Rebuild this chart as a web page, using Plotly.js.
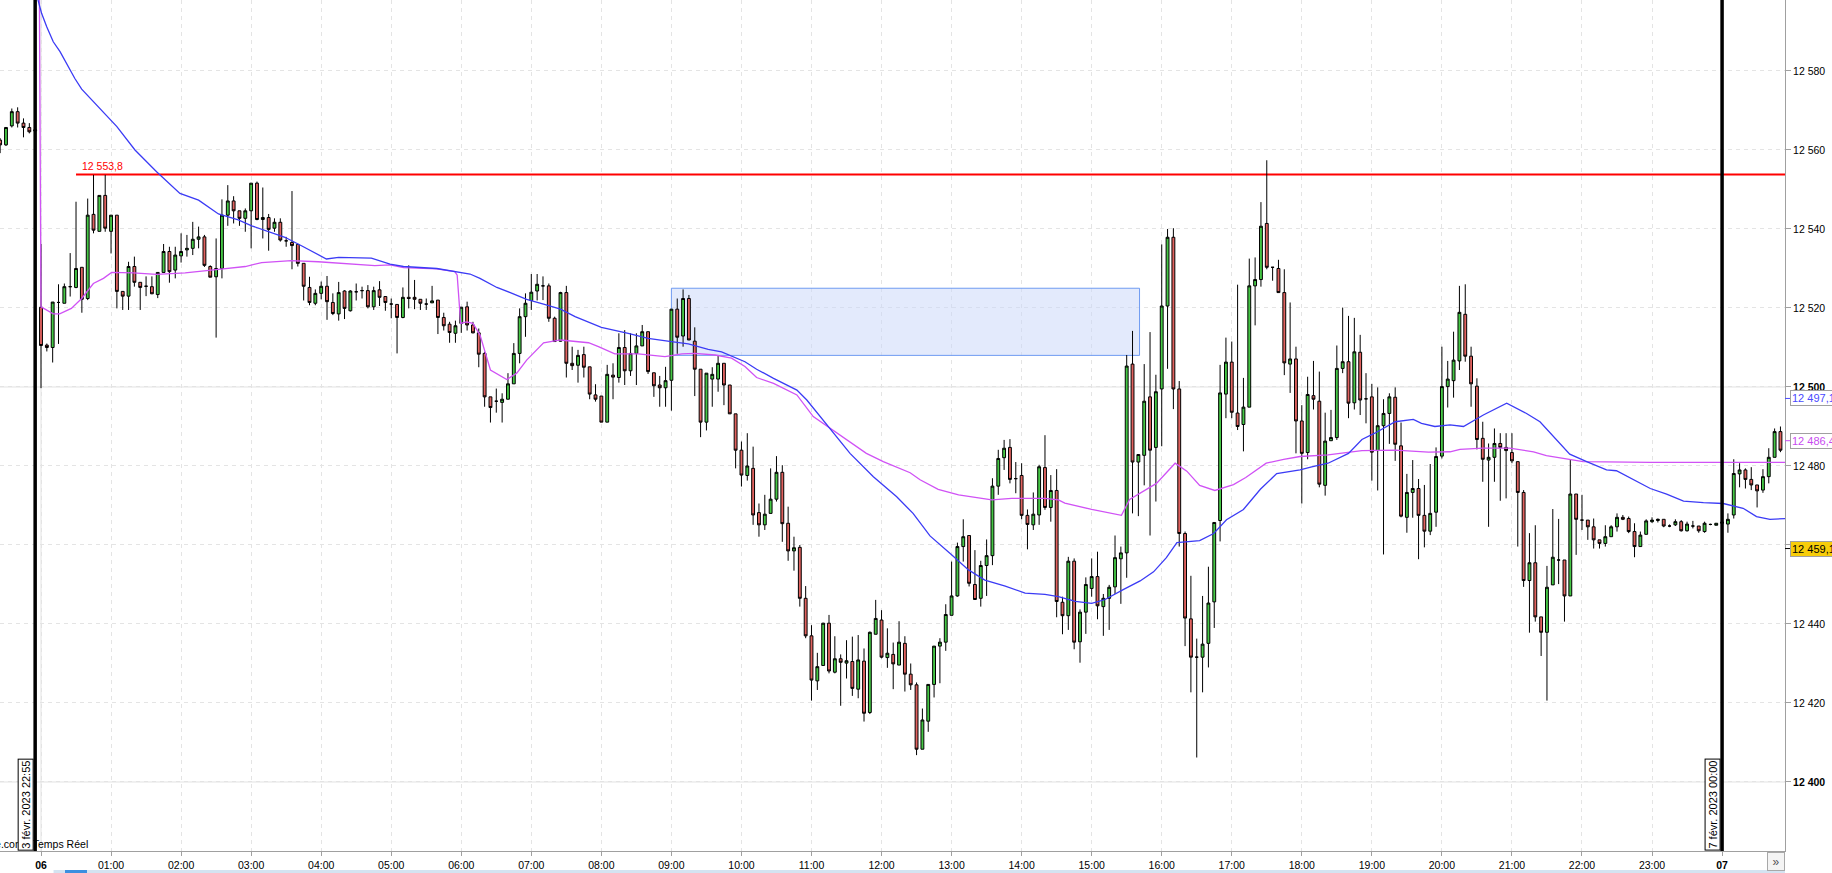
<!DOCTYPE html>
<html>
<head>
<meta charset="utf-8">
<script src="https://cdn.plot.ly/plotly-3.0.1.min.js"></script>
<style>
html,body{margin:0;padding:0;background:#fff;overflow:hidden;}
#chart{width:1832px;height:873px;}
</style>
</head>
<body>
<div id="chart"></div>
<script>
// 5-minute candles, index 0 = 6 Feb 00:00, first candle index = -7
const FIRST_INDEX = -7;

const candleOpen = [
12562.5,12561.3,12566.1,12569.7,12566.8,12565.7,12564.8,
12520.2,12510.6,12510.0,12521.4,12521.2,12525.4,12525.2,12530.3,12522.4,12543.7,
12539.4,12548.5,12539.4,12543.5,12524.2,12523.0,12530.5,12526.5,12525.5,12525.4,
12523.4,12529.0,12534.3,12529.6,12533.2,12534.7,12535.1,12537.4,12538.0,12530.5,
12527.9,12530.0,12543.5,12547.1,12544.6,12542.7,12544.6,12551.6,12542.4,12542.9,
12540.2,12541.7,12537.0,12536.6,12536.1,12531.3,12525.2,12521.2,12523.7,12525.5,
12521.4,12518.5,12524.3,12519.3,12524.1,12524.4,12524.4,12520.3,12524.6,12522.9,
12521.0,12520.9,12517.6,12522.7,12522.7,12522.2,12521.0,12521.3,12522.0,12517.6,
12515.9,12513.6,12516.1,12520.3,12515.7,12513.7,12508.5,12497.5,12496.4,12496.1,
12496.9,12500.8,12508.5,12517.8,12521.9,12524.3,12525.6,12525.6,12517.4,12511.6,
12523.9,12506.0,12505.5,12508.2,12505.1,12498.0,12497.7,12491.1,12503.0,12502.4,
12510.0,12504.1,12508.5,12510.4,12514.0,12503.6,12500.5,12499.8,12501.7,12519.7,
12512.9,12522.4,12511.6,12504.5,12491.1,12502.0,12502.0,12506.0,12500.5,12493.2,
12484.0,12477.6,12479.4,12468.2,12465.1,12468.0,12471.6,12478.4,12465.5,12458.5,
12459.4,12446.5,12437.0,12425.6,12429.5,12440.2,12427.8,12431.2,12430.1,12430.5,
12423.5,12430.6,12417.6,12437.4,12441.0,12431.5,12432.3,12429.6,12435.1,12427.3,
12424.6,12408.3,12415.4,12424.7,12434.4,12435.4,12442.2,12447.1,12459.6,12462.4,
12450.0,12446.5,12454.8,12457.3,12474.9,12482.1,12484.7,12476.8,12477.6,12467.5,
12465.1,12467.6,12479.6,12469.5,12473.8,12445.5,12442.1,12455.9,12435.5,12443.0,
12449.0,12452.0,12444.4,12446.5,12449.4,12456.5,12458.0,12505.8,12481.0,12482.7,
12497.5,12484.7,12499.5,12520.5,12537.9,12499.5,12462.9,12441.3,12431.6,12431.6,
12435.1,12445.6,12466.2,12498.2,12506.3,12493.4,12490.5,12494.9,12525.6,12527.2,
12541.4,12530.3,12530.0,12523.9,12505.8,12507.1,12491.4,12483.4,12497.8,12496.4,
12475.1,12486.4,12487.2,12504.7,12506.4,12496.0,12508.8,12497.0,12497.5,12483.9,
12490.2,12493.3,12497.4,12485.1,12467.0,12473.3,12474.3,12467.5,12463.5,12468.3,
12482.5,12500.1,12501.6,12506.6,12518.4,12507.8,12500.2,12487.0,12481.5,12482.2,
12485.7,12484.7,12483.4,12481.1,12473.3,12451.0,12455.5,12441.8,12437.9,12449.9,
12456.2,12456.2,12447.1,12472.9,12466.3,12466.3,12464.6,12461.3,12460.4,12462.1,
12464.6,12467.0,12466.7,12463.4,12459.6,12462.7,12465.9,12466.2,12466.5,12464.8,
12465.1,12465.9,12463.6,12464.8,12464.8,12463.4,12465.2,12465.0,12465.5,12465.3,
12467.6,12478.0,12479.0,12476.6,12475.2,12473.9,12477.3,12482.2,12488.7
];

const candleHigh = [
12563.0,12565.7,12570.5,12570.8,12568.0,12566.8,12565.5,
12536.2,12511.0,12521.5,12526.0,12526.2,12533.9,12546.9,12530.3,12547.7,12553.7,
12548.5,12553.7,12543.5,12543.5,12524.2,12531.7,12533.0,12526.5,12528.0,12528.0,
12529.0,12536.2,12535.5,12535.5,12538.9,12538.5,12541.8,12540.6,12538.5,12530.8,
12537.6,12547.5,12551.1,12548.3,12544.6,12545.2,12551.6,12552.0,12550.5,12543.8,
12542.7,12542.7,12538.0,12549.6,12536.1,12531.3,12527.9,12524.7,12526.7,12528.1,
12523.7,12526.6,12524.5,12524.5,12526.2,12525.4,12525.8,12525.4,12526.8,12522.9,
12522.4,12520.9,12525.2,12530.8,12527.1,12522.2,12522.4,12525.6,12522.0,12518.8,
12516.5,12516.8,12520.2,12521.6,12516.5,12514.8,12508.9,12497.5,12499.6,12498.4,
12503.5,12511.1,12519.9,12523.7,12528.6,12528.6,12528.0,12526.2,12517.8,12524.1,
12525.6,12510.2,12509.4,12510.2,12505.1,12500.7,12497.7,12505.6,12506.0,12513.6,
12514.4,12513.6,12513.6,12515.7,12514.0,12503.6,12502.8,12505.1,12519.7,12522.4,
12524.7,12523.3,12515.1,12504.5,12503.5,12505.0,12508.1,12506.0,12500.5,12493.2,
12486.2,12488.3,12484.9,12470.5,12472.7,12479.4,12482.5,12480.2,12469.7,12462.1,
12460.0,12449.6,12439.7,12432.7,12440.3,12442.3,12436.9,12432.3,12435.9,12436.8,
12437.2,12433.8,12438.1,12446.1,12443.5,12438.9,12435.3,12440.7,12436.9,12430.0,
12425.2,12418.6,12424.7,12434.4,12436.4,12445.0,12455.8,12460.6,12466.5,12462.4,
12458.7,12456.0,12461.4,12476.9,12484.1,12486.6,12486.8,12481.0,12480.7,12469.0,
12473.3,12480.3,12487.8,12477.7,12479.2,12446.9,12457.0,12456.6,12443.7,12451.8,
12456.6,12458.3,12447.6,12449.9,12462.4,12459.6,12508.1,12514.2,12482.9,12505.8,
12513.9,12503.1,12536.1,12540.0,12540.2,12501.5,12463.4,12452.2,12436.3,12447.1,
12454.5,12465.7,12505.6,12512.5,12511.5,12525.9,12502.3,12532.5,12532.8,12546.8,
12557.4,12530.3,12532.2,12529.8,12521.4,12510.2,12495.4,12502.6,12506.6,12503.9,
12493.5,12494.2,12510.5,12520.1,12518.0,12517.5,12513.2,12503.5,12500.8,12499.9,
12496.9,12498.4,12499.9,12491.0,12478.0,12481.5,12476.7,12475.2,12480.5,12484.7,
12510.2,12506.6,12514.0,12525.6,12526.0,12510.2,12502.2,12491.2,12485.7,12489.5,
12488.3,12488.3,12488.3,12481.1,12473.9,12463.0,12465.0,12441.8,12454.7,12469.1,
12466.6,12456.2,12481.7,12472.9,12472.7,12466.3,12466.7,12461.3,12465.0,12465.0,
12468.0,12467.6,12467.2,12465.5,12463.4,12466.5,12467.0,12466.7,12466.5,12465.2,
12466.5,12466.3,12465.9,12466.1,12464.8,12465.9,12465.4,12465.5,12467.0,12468.0,
12481.7,12480.7,12479.4,12479.7,12475.2,12479.2,12484.5,12489.5,12490.0
];

const candleLow = [
12559.2,12561.0,12565.7,12565.7,12563.2,12564.2,12564.5,
12499.7,12509.0,12506.2,12510.9,12521.2,12522.9,12525.0,12518.8,12522.0,12538.9,
12539.4,12539.3,12533.8,12519.9,12519.5,12519.5,12525.4,12519.5,12523.0,12523.5,
12522.5,12529.0,12526.4,12527.5,12531.5,12533.0,12533.4,12535.1,12530.4,12527.8,
12512.5,12527.5,12540.8,12541.4,12540.8,12539.3,12535.1,12542.2,12537.6,12534.5,
12539.3,12536.8,12535.5,12529.8,12530.5,12521.9,12520.7,12520.7,12522.2,12517.0,
12518.2,12516.8,12517.2,12519.1,12521.9,12522.4,12519.9,12519.5,12520.5,12519.3,
12517.4,12508.5,12517.4,12519.9,12519.7,12519.5,12519.5,12521.3,12513.4,12514.3,
12511.2,12511.2,12513.7,12514.3,12513.6,12505.0,12495.0,12491.0,12493.5,12491.0,
12496.9,12500.8,12506.0,12512.7,12519.5,12521.9,12522.0,12516.5,12511.5,12511.5,
12502.4,12504.3,12501.1,12502.4,12496.9,12496.3,12491.1,12491.1,12496.9,12501.1,
12500.5,12502.8,12500.5,12510.4,12503.3,12497.5,12495.0,12495.0,12494.0,12508.4,
12510.2,12511.9,12497.7,12487.3,12489.0,12495.0,12498.8,12495.4,12493.2,12479.4,
12474.8,12476.3,12465.1,12462.1,12463.8,12468.0,12471.0,12460.8,12456.0,12453.5,
12444.4,12436.4,12420.6,12423.3,12429.5,12427.5,12427.5,12419.3,12426.2,12421.8,
12421.2,12415.3,12417.2,12437.4,12431.3,12428.9,12423.5,12429.6,12422.9,12423.3,
12406.8,12408.3,12412.7,12421.4,12425.0,12433.2,12442.2,12446.9,12455.8,12449.5,
12446.2,12444.4,12447.1,12454.9,12472.7,12479.0,12475.6,12473.1,12466.5,12458.9,
12463.8,12465.1,12468.9,12465.9,12441.7,12437.4,12438.5,12433.6,12430.2,12437.5,
12446.9,12441.2,12437.0,12438.5,12447.6,12445.1,12451.7,12468.0,12467.3,12475.1,
12462.4,12471.0,12485.0,12504.6,12494.4,12459.6,12434.4,12422.7,12406.2,12422.7,
12429.0,12439.0,12460.9,12492.1,12492.1,12489.1,12483.7,12494.9,12515.6,12525.4,
12529.8,12526.9,12523.9,12503.0,12498.5,12483.2,12470.5,12481.7,12494.3,12474.6,
12472.5,12486.4,12486.6,12503.5,12492.1,12494.3,12492.9,12490.8,12476.3,12473.8,
12457.6,12485.6,12481.3,12467.0,12463.1,12466.9,12456.4,12459.4,12462.5,12464.6,
12481.9,12494.8,12497.3,12504.3,12506.4,12495.0,12484.2,12476.0,12464.6,12476.0,
12471.2,12471.8,12480.7,12459.6,12449.4,12437.8,12440.6,12431.9,12420.6,12449.9,
12450.1,12440.6,12447.1,12457.5,12463.8,12461.3,12459.1,12459.1,12459.6,12462.1,
12463.4,12466.3,12463.0,12456.9,12459.6,12462.7,12465.6,12465.7,12464.5,12464.5,
12464.8,12463.4,12463.4,12464.2,12463.1,12463.1,12465.0,12465.0,12464.8,12463.1,
12466.7,12474.6,12474.3,12473.9,12469.5,12473.2,12475.6,12482.2,12483.5
];

const candleClose = [
12561.3,12565.7,12569.7,12566.8,12565.7,12564.6,12565.1,
12510.5,12510.0,12521.5,12521.4,12525.4,12525.4,12530.0,12522.2,12543.5,12539.7,
12548.5,12540.2,12543.5,12524.2,12523.0,12530.5,12526.5,12525.2,12525.5,12523.6,
12529.0,12534.3,12529.2,12533.4,12534.3,12535.1,12537.4,12538.0,12530.8,12527.8,
12530.0,12543.5,12547.1,12544.6,12542.7,12544.6,12551.6,12542.4,12542.9,12539.9,
12541.7,12537.2,12537.0,12535.8,12531.3,12525.5,12521.4,12523.7,12525.5,12521.6,
12518.6,12523.9,12519.9,12524.3,12524.1,12524.4,12520.3,12524.4,12522.7,12521.4,
12521.0,12517.6,12522.7,12522.4,12522.2,12521.2,12521.0,12521.8,12517.6,12515.5,
12513.8,12515.5,12520.2,12515.7,12513.7,12508.3,12497.5,12494.8,12496.4,12496.9,
12500.8,12508.5,12517.8,12521.2,12524.0,12526.0,12525.6,12517.4,12511.5,12523.9,
12506.0,12505.4,12508.0,12505.0,12498.2,12496.9,12491.1,12503.2,12502.5,12510.0,
12504.1,12508.5,12510.4,12514.0,12503.9,12500.3,12499.8,12501.6,12519.7,12512.6,
12522.4,12511.9,12504.5,12491.1,12503.5,12503.2,12506.0,12500.5,12493.2,12484.0,
12477.7,12480.0,12467.6,12465.1,12467.8,12471.6,12478.4,12465.4,12458.5,12459.3,
12446.5,12437.0,12425.8,12429.2,12440.2,12428.1,12431.2,12430.3,12430.7,12423.7,
12430.9,12417.4,12437.9,12441.4,12431.6,12432.6,12429.9,12435.4,12427.3,12424.6,
12408.3,12415.7,12424.7,12434.4,12435.4,12442.4,12447.1,12459.6,12462.1,12450.3,
12446.2,12454.8,12457.3,12474.9,12481.9,12484.5,12476.6,12476.8,12467.5,12465.2,
12467.8,12479.8,12469.5,12473.8,12445.7,12442.1,12455.9,12435.4,12443.0,12450.0,
12452.0,12444.6,12446.5,12449.3,12456.8,12458.0,12505.3,12481.0,12482.9,12496.4,
12484.0,12498.8,12520.5,12537.9,12499.5,12462.9,12441.5,12431.6,12431.6,12434.9,
12445.3,12465.7,12498.5,12506.3,12493.6,12490.0,12494.9,12525.6,12527.2,12540.7,
12530.3,12530.3,12523.9,12506.1,12507.1,12491.4,12483.2,12498.1,12496.9,12475.4,
12486.3,12487.2,12504.7,12506.4,12495.9,12508.9,12496.7,12497.0,12483.5,12490.2,
12493.3,12497.5,12485.5,12467.3,12473.3,12474.3,12467.5,12463.5,12468.0,12482.4,
12500.1,12502.0,12506.8,12518.9,12507.8,12500.8,12486.7,12481.7,12482.2,12485.7,
12484.7,12483.9,12481.3,12473.3,12451.0,12455.5,12441.8,12437.9,12449.3,12456.9,
12456.2,12447.1,12472.9,12466.5,12466.3,12464.6,12461.3,12460.4,12462.1,12464.6,
12467.0,12466.5,12463.4,12459.6,12462.5,12466.1,12466.3,12466.5,12464.8,12464.8,
12465.9,12463.6,12465.3,12464.8,12463.6,12465.5,12465.2,12465.5,12465.8,12466.5,
12478.1,12479.0,12476.6,12475.2,12473.7,12477.3,12482.2,12488.7,12484.0
];

// Blue average line (sampled: candle index, price)
const blueIdx = [-0.7,0.1,0.98,2.1,3.26,4.7,5.8,6.97,9.5,13.0,16.1,19.8,23.8,25.5,27.0,30.4,33.8,36.1,39.0,41.8,44.7,47.5,48.9,51.0,56.6,59.8,62.1,67.8,70.6,73.5,75.2,78.1,80.4,83.2,86.1,89.0,91.5,96.0,100.6,104.0,108.0,110.9,114.3,116.6,120.6,122.6,125.5,129.5,131.2,134.6,138.6,142.6,146.6,149.4,152.3,156.0,158.9,161.7,165.2,168.6,172.0,174.3,177.2,180.0,182.3,185.4,188.3,190.6,192.8,194.6,198.5,200.9,203.1,206.0,208.9,211.7,215.7,217.7,220.5,224.0,226.3,228.5,232.0,235.1,236.5,238.8,241.4,243.7,247.1,251.1,254.5,256.8,259.7,261.9,264.8,268.2,269.9,273.4,275.7,278.5,281.4,284.8,288.2,291.6,293.9,296.2,298.8];
const blueVal = [12599,12594.6,12591.2,12587.4,12584.9,12581.1,12578.1,12575.4,12571.4,12565.9,12560.0,12554.5,12549.0,12548.2,12547.3,12543.8,12542.3,12540.8,12539.3,12537.9,12535.7,12533.4,12532.4,12532.8,12532.6,12531.1,12530.5,12530.0,12529.4,12528.6,12527.5,12525.2,12523.9,12522.2,12521.0,12519.7,12517.8,12515.1,12513.6,12512.3,12511.5,12510.9,12509.5,12508.9,12506.4,12504.5,12502.2,12499.2,12496.7,12490.4,12483.2,12477.3,12472.2,12468.0,12462.3,12457.5,12453.7,12451.1,12449.6,12447.8,12447.5,12446.9,12445.7,12445.2,12446.2,12448.7,12450.9,12453.2,12456.8,12460.6,12461.1,12462.9,12466.4,12469.0,12474.1,12478.1,12479.0,12479.8,12480.7,12483.2,12486.7,12488.3,12491.2,12491.8,12490.8,12490.0,12490.4,12490.0,12492.9,12495.9,12493.3,12491.2,12486.6,12483.0,12481.1,12479.0,12478.8,12476.0,12474.3,12472.9,12471.1,12470.7,12470.5,12469.3,12467.2,12466.5,12466.7];

// Magenta average line (sampled: candle index, price)
const magIdx = [-0.3,0.0,2.1,3.2,5.2,6.97,8.97,10.7,12.1,15.8,19.8,24.7,30.4,35.0,37.8,42.9,47.5,52.1,57.2,59.8,62.1,67.8,70.9,71.3,71.9,72.9,74.0,75.2,76.1,77.0,79.8,81.5,83.2,86.1,89.0,93.8,95.5,98.3,102.3,106.9,109.8,112.0,115.5,118.3,120.6,122.6,125.5,129.5,132.3,134.9,138.0,141.4,144.3,148.9,150.6,152.3,153.7,157.2,162.9,166.3,172.0,174.3,175.4,180.0,184.0,185.1,186.5,188.8,191.1,194.3,196.3,198.5,201.1,204.3,206.4,209.9,212.9,215.7,220.5,226.3,232.0,237.7,241.4,243.1,247.1,251.6,255.7,257.9,264.2,275.7,298.8];
const magVal = [12605,12520.3,12518.5,12518.5,12519.9,12522.4,12526.2,12527.5,12529.0,12528.9,12528.5,12528.9,12529.8,12530.5,12531.5,12532.0,12531.7,12531.3,12530.7,12530.9,12530.2,12529.9,12529.2,12528.3,12516.1,12516.5,12516.1,12513.2,12508.5,12504.3,12501.9,12503.5,12506.8,12511.2,12511.9,12511.2,12510.2,12508.4,12508.4,12507.7,12508.4,12508.5,12508.1,12507.3,12505.2,12502.4,12500.9,12498.0,12492.5,12489.9,12486.6,12483.2,12481.1,12478.3,12476.5,12475.2,12474.1,12472.7,12471.4,12471.8,12471.8,12471.4,12470.6,12469.0,12467.9,12467.5,12471.5,12473.6,12475.6,12480.7,12478.7,12475.1,12473.8,12475.3,12477.1,12480.7,12481.7,12482.4,12482.8,12483.9,12484.0,12483.5,12483.6,12484.2,12484.5,12484.5,12483.6,12482.6,12481.1,12480.9,12480.9];

const hourLabels = ['<b>06</b>','01:00','02:00','03:00','04:00','05:00','06:00','07:00','08:00','09:00','10:00','11:00','12:00','13:00','14:00','15:00','16:00','17:00','18:00','19:00','20:00','21:00','22:00','23:00','<b>07</b>'];
const CANDLES_PER_HOUR = 12;

// 12 460 sits behind the yellow price marker in the reference, so its label is left empty
const priceTicks = [12400,12420,12440,12460,12480,12500,12520,12540,12560,12580];
const priceTickText = ['<b>12 400</b>','12 420','12 440','','12 480','<b>12 500</b>','12 520','12 540','12 560','12 580'];

const resistanceLevel = 12553.8;
const resistanceLabel = '12 553,8';
const zoneLow = 12508.0, zoneHigh = 12525.0, zoneStart = 108, zoneEnd = 188.2;
const sessionLines = [{idx:-1, text:'3 févr. 2023 22:55'},{idx:288, text:'7 févr. 2023 00:00'}];
const priceMarkers = [
  {v:12497.1, text:'12 497,1', color:'#4a4aff', bg:'#ffffff'},
  {v:12486.4, text:'12 486,4', color:'#c84cf0', bg:'#ffffff'},
  {v:12459.1, text:'12 459,1', color:'#000000', bg:'#f7cd0a'}
];

const xs = candleOpen.map((_, i) => i + FIRST_INDEX);
const hourVals = hourLabels.map((_, k) => k * CANDLES_PER_HOUR);

const FONT = 'Liberation Sans, Arial, sans-serif';

const traces = [
  {
    type: 'candlestick', x: xs, open: candleOpen, high: candleHigh, low: candleLow, close: candleClose,
    increasing: {fillcolor: '#45c745', line: {color: '#000000', width: 1}},
    decreasing: {fillcolor: '#e0625f', line: {color: '#000000', width: 1}},
    whiskerwidth: 0, hoverinfo: 'skip', showlegend: false
  },
  {type: 'scatter', mode: 'lines', x: magIdx, y: magVal, line: {color: '#d052f5', width: 1.3}, hoverinfo: 'skip', showlegend: false},
  {type: 'scatter', mode: 'lines', x: blueIdx, y: blueVal, line: {color: '#3b3bf5', width: 1.3}, hoverinfo: 'skip', showlegend: false}
];

const shapes = [
  {type:'line', xref:'paper', x0:0, x1:1, yref:'y', y0:12500, y1:12500, line:{color:'#e2e2e2', width:1}, layer:'below'},
  {type:'line', xref:'paper', x0:0, x1:1, yref:'y', y0:12400, y1:12400, line:{color:'#e2e2e2', width:1}, layer:'below'},
  {type:'line', xref:'x', x0:0, x1:0, yref:'paper', y0:0, y1:1, line:{color:'#e2e2e2', width:1}, layer:'below'},
  {type:'rect', xref:'x', x0:zoneStart, x1:zoneEnd, yref:'y', y0:zoneLow, y1:zoneHigh,
   fillcolor:'rgba(200,214,250,0.5)', line:{color:'#6f9bf2', width:1}, layer:'between'},
  {type:'line', xref:'x', x0:6.0, x1:310, yref:'y', y0:resistanceLevel, y1:resistanceLevel, line:{color:'#ff0000', width:2}, layer:'between'},
  {type:'rect', xref:'paper', x0:0.03, x1:1, yref:'paper', y0:-22/851, y1:-19/851, fillcolor:'#d4e3f1', line:{width:0}},
  {type:'rect', xref:'paper', x0:65/1785, x1:87/1785, yref:'paper', y0:-22/851, y1:-19/851, fillcolor:'#3b8fe0', line:{width:0}}
];
sessionLines.forEach(s => shapes.push({type:'line', xref:'x', x0:s.idx, x1:s.idx, yref:'paper', y0:0, y1:1, line:{color:'#000000', width:3.5}, layer:'above'}));
priceMarkers.forEach(m => shapes.push({type:'line', xref:'paper', x0:1, x1:1.003, yref:'y', y0:m.v, y1:m.v, line:{color:m.color, width:1}}));

const annotations = [
  {xref:'paper', x:90/1785, xanchor:'right', yref:'paper', y:0, yanchor:'bottom', yshift:-1, showarrow:false,
   text:'ProRealTime.com - Temps Réel', font:{family:FONT, size:10.5, color:'#000'}},
  {xref:'x', x:6.7, xanchor:'left', yref:'y', y:resistanceLevel, yanchor:'bottom', showarrow:false,
   text:resistanceLabel, font:{family:FONT, size:10.5, color:'#ff0000'}},
  {xref:'paper', x:1, xanchor:'right', yref:'paper', y:0, yanchor:'top', yshift:-1, showarrow:false,
   text:'»', font:{family:FONT, size:12, color:'#555'}, bgcolor:'#f4f4f4', bordercolor:'#a8a8a8', borderwidth:1, width:14, height:15}
];
sessionLines.forEach(s => annotations.push({
  xref:'x', x:s.idx, xanchor:'right', xshift:-1.5, yref:'paper', y:0, yanchor:'bottom', showarrow:false,
  text:s.text, textangle:-90, font:{family:FONT, size:11, color:'#000'},
  bgcolor:'#ffffff', bordercolor:'#000000', borderwidth:1, borderpad:1
}));
priceMarkers.forEach(m => annotations.push({
  xref:'paper', x:1, xanchor:'left', xshift:5, yref:'y', y:m.v, yanchor:'middle', showarrow:false,
  text:m.text, font:{family:FONT, size:11, color:m.color},
  bgcolor:m.bg, bordercolor:'#a0a0a0', borderwidth:1, borderpad:1
}));

const layout = {
  width: 1832, height: 873,
  margin: {l: 0, r: 47, t: 0, b: 22, pad: 0},
  paper_bgcolor: '#ffffff', plot_bgcolor: '#ffffff',
  showlegend: false, hovermode: false,
  font: {family: FONT, size: 10.5, color: '#000'},
  xaxis: {
    type: 'linear', range: [-7.024, 298.78], fixedrange: true,
    rangeslider: {visible: false},
    tickmode: 'array', tickvals: hourVals, ticktext: hourLabels,
    showgrid: true, gridcolor: '#e4e4e4', griddash: '4px,4px', gridwidth: 1,
    zeroline: false, showline: true, linecolor: '#a0a0a0', linewidth: 1,
    ticks: 'outside', ticklen: 4, tickcolor: '#a0a0a0',
    tickfont: {family: FONT, size: 10.5, color: '#000'}
  },
  yaxis: {
    side: 'right', range: [12382.53, 12597.97], fixedrange: true,
    tickmode: 'array', tickvals: priceTicks, ticktext: priceTickText,
    showgrid: true, gridcolor: '#e4e4e4', griddash: '4px,4px', gridwidth: 1,
    zeroline: false, showline: true, linecolor: '#a0a0a0', linewidth: 1,
    ticks: 'outside', ticklen: 5, tickcolor: '#a0a0a0',
    tickfont: {family: FONT, size: 10.5, color: '#000'}
  },
  shapes: shapes,
  annotations: annotations
};

Plotly.newPlot('chart', traces, layout, {staticPlot: true, displayModeBar: false});
</script>
</body>
</html>
